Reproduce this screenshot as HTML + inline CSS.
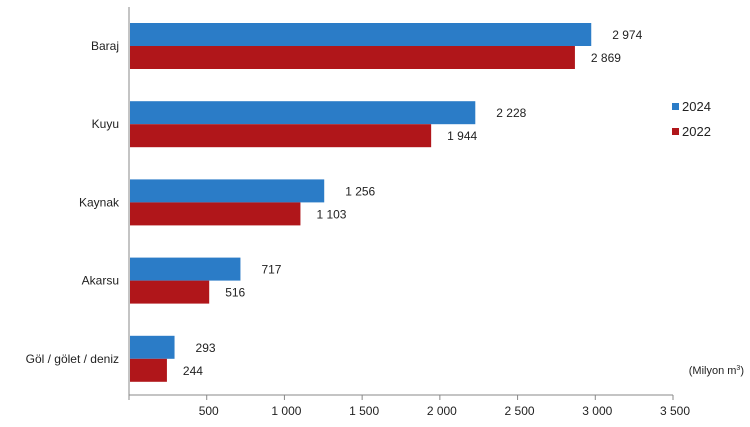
<!DOCTYPE html>
<html><head><meta charset="utf-8"><style>
body{margin:0;background:#fff;}
svg{display:block;font-family:"Liberation Sans",Arial,sans-serif;}
</style></head><body>
<svg id="c" width="750" height="427"></svg>
<script>
const categories=["Baraj","Kuyu","Kaynak","Akarsu","Göl / gölet / deniz"];
const values2024=[2974,2228,1256,717,293];
const values2022=[2869,1944,1103,516,244];
const ticks=[0,500,1000,1500,2000,2500,3000,3500];
const tickLabels=["","500","1 000","1 500","2 000","2 500","3 000","3 500"];
const labels2024=["2 974","2 228","1 256","717","293"];
const labels2022=["2 869","1 944","1 103","516","244"];
const NS="http://www.w3.org/2000/svg";
const svg=document.getElementById('c');
const x0=129,x1=673,yTop=7,yAxis=395;
const xs=v=>x0+(v/3500)*(x1-x0);
const band=78.2;
function mk(t,a,txt){const e=document.createElementNS(NS,t);for(const k in a)e.setAttribute(k,a[k]);if(txt!==undefined)e.textContent=txt;svg.appendChild(e);return e;}
let e;
e=mk('line',{x1:x0,y1:yTop,x2:x0,y2:yAxis,stroke:'#888'});


e=mk('line',{x1:x0,y1:yAxis,x2:x1,y2:yAxis,stroke:'#888'});


ticks.forEach((t,i)=>{
 e=mk('line',{x1:xs(t),y1:yAxis,x2:xs(t),y2:yAxis+5,stroke:'#888'});
 
 
 e=mk('text',{x:xs(t)+2,y:yAxis+20,'text-anchor':'middle','font-size':12,fill:'#222'},tickLabels[i]);
 
 
});
categories.forEach((c,i)=>{
 const yc=46+band*i;
 const h=23;
 e=mk('rect',{x:x0+1,y:yc-h,width:xs(values2024[i])-x0-1,height:h,fill:'#2b7cc7'});
 
 
 e=mk('rect',{x:x0+1,y:yc,width:xs(values2022[i])-x0-1,height:h,fill:'#b0161a'});
 
 
 e=mk('text',{x:x0-10,y:yc+4,'text-anchor':'end','font-size':12,fill:'#222'},c);
 
 
 e=mk('text',{x:xs(values2024[i])+21,y:yc-7,'font-size':12,fill:'#222'},labels2024[i]);
 
 
 e=mk('text',{x:xs(values2022[i])+16,y:yc+16,'font-size':12,fill:'#222'},labels2022[i]);
 
 
});
e=mk('rect',{x:672,y:103,width:7,height:7,fill:'#2b7cc7'});


e=mk('text',{x:682,y:111,'font-size':13,fill:'#222'},'2024');


e=mk('rect',{x:672,y:128,width:7,height:7,fill:'#b0161a'});


e=mk('text',{x:682,y:136,'font-size':13,fill:'#222'},'2022');


e=mk('text',{x:744,y:374,'text-anchor':'end','font-size':11,fill:'#222'});


e.innerHTML='(Milyon m<tspan dy="-4" font-size="7">3</tspan><tspan dy="4">)</tspan>';
</script>
</body></html>
